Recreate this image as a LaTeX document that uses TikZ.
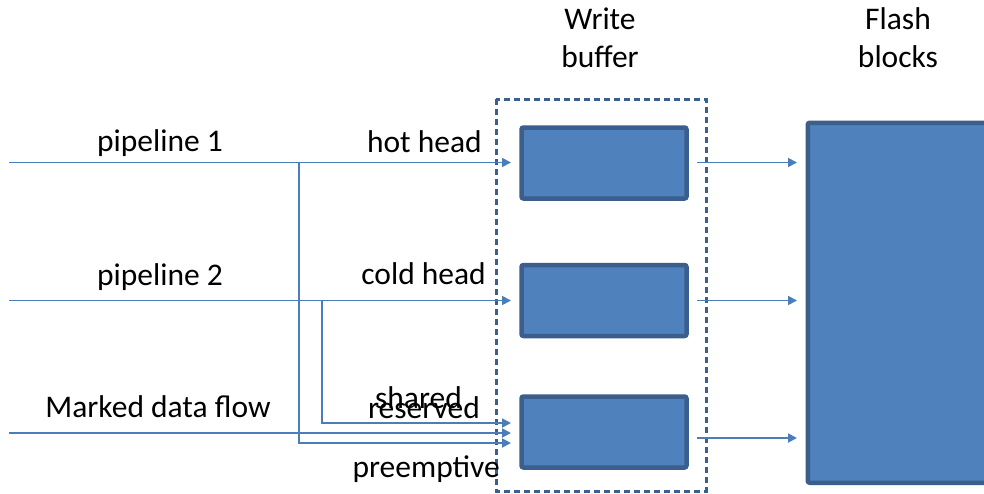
\documentclass[tikz,border=0pt]{standalone}
\usepackage{fontspec}
\setmainfont{Carlito}
\usetikzlibrary{arrows.meta}
\definecolor{fillblue}{HTML}{4F81BD}
\definecolor{edgeblue}{HTML}{3B5E8C}
\definecolor{lineblue}{HTML}{4A7EBB}
\tikzset{
  blk/.style={draw=edgeblue, fill=fillblue, line width=4.5pt, rounded corners=2pt},
  flow/.style={draw=lineblue, line width=1.8pt},
  flowarr/.style={flow, -{Triangle[length=9pt,width=9pt]}},
  lbl/.style={font=\fontsize{31.5}{37}\selectfont, text=black, inner sep=0pt, anchor=base},
  bufframe/.style={draw=edgeblue, line width=3pt, dash pattern=on 6pt off 4pt}
}
\begin{document}
\begin{tikzpicture}[x=1pt,y=-1pt]
\useasboundingbox (0,0) rectangle (984,493);
\clip (0,0) rectangle (984,493);

% write buffer frame
\draw[bufframe] (496,99) rectangle (706,491);

% buffer heads
\node[blk, minimum width=165pt, minimum height=71pt, inner sep=0pt] (hot)  at (604,163) {};
\node[blk, minimum width=165pt, minimum height=71pt, inner sep=0pt] (cold) at (604,300.5) {};
\node[blk, minimum width=165pt, minimum height=71pt, inner sep=0pt] (shr)  at (604,432) {};

% flash blocks
\node[blk, minimum width=190pt, minimum height=360pt, inner sep=0pt, anchor=north west] (flash) at (805.5,120.5) {};

% titles
\node[lbl] (t1) at (600,29) {Write};
\node[lbl] (t2) at (600,67) {buffer};
\node[lbl] (t3) at (898,29) {Flash};
\node[lbl] (t4) at (898,67) {blocks};

% stream labels
\node[lbl] (p1) at (160,151) {pipeline 1};
\node[lbl] (p2) at (160,285) {pipeline 2};
\node[lbl] (md) at (158,417) {Marked data flow};
\node[lbl, anchor=base east] (hh) at (482,152) {hot head};
\node[lbl, anchor=base east] (ch) at (486,284) {cold head};
\node[lbl, anchor=base east] (sh) at (462,408) {shared};
\node[lbl, anchor=base east] (rs) at (480,418) {reserved};
\node[lbl, anchor=base east] (pe) at (500,477) {preemptive};

% connector points
\coordinate (in1) at (9,162.5);
\coordinate (in2) at (9,300.5);
\coordinate (in3) at (9,433);
\coordinate (j1) at (299,162.5);
\coordinate (j2) at (322,300.5);
\coordinate (e1) at (511,162.5);
\coordinate (e2) at (511,300.5);
\coordinate (e3) at (511,433);
\coordinate (e3a) at (511,423);
\coordinate (e3b) at (511,443);
\coordinate (o1) at (697,162.5);
\coordinate (o2) at (697,300.5);
\coordinate (o3) at (697,438);
\coordinate (f1) at (797,162.5);
\coordinate (f2) at (797,300.5);
\coordinate (f3) at (797,438);

% incoming streams
\draw[flowarr] (in1) -- (e1);
\draw[flowarr] (in2) -- (e2);
\draw[flowarr] (in3) -- (e3);
\draw[flowarr] (j1) |- (e3b);
\draw[flowarr] (j2) |- (e3a);

% outgoing to flash
\draw[flowarr] (o1) -- (f1);
\draw[flowarr] (o2) -- (f2);
\draw[flowarr] (o3) -- (f3);
\end{tikzpicture}
\end{document}
